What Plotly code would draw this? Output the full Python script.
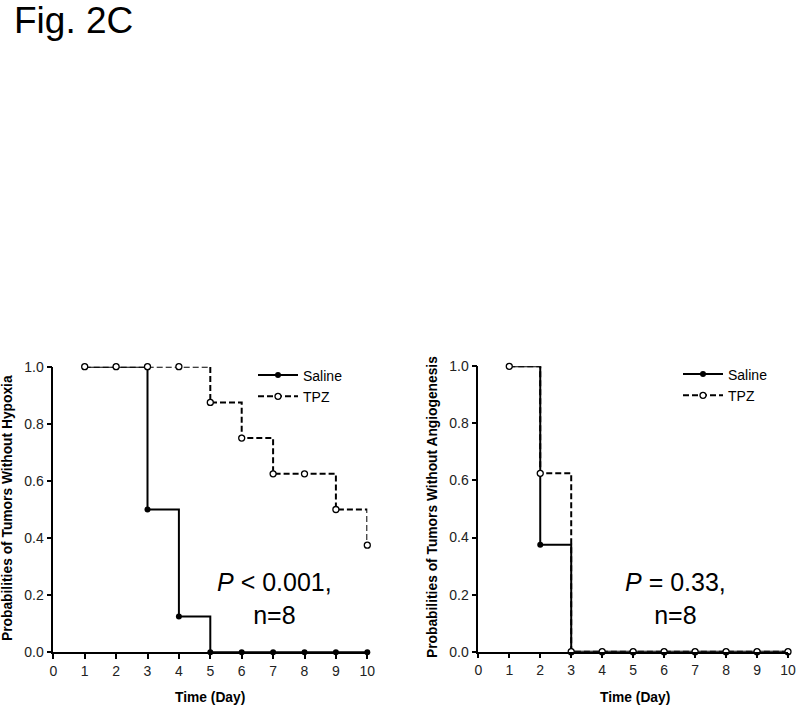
import plotly.graph_objects as go

# Kaplan-Meier style data
days = [1, 2, 3, 4, 5, 6, 7, 8, 9, 10]

hyp_saline = [1.0, 1.0, 0.5, 0.125, 0.0, 0.0, 0.0, 0.0, 0.0, 0.0]
hyp_tpz = [1.0, 1.0, 1.0, 1.0, 0.875, 0.75, 0.625, 0.625, 0.5, 0.375]

ang_saline = [1.0, 0.375, 0.0, 0.0, 0.0, 0.0, 0.0, 0.0, 0.0, 0.0]
ang_tpz = [1.0, 0.625, 0.0, 0.0, 0.0, 0.0, 0.0, 0.0, 0.0, 0.0]

x_ticks = [0, 1, 2, 3, 4, 5, 6, 7, 8, 9, 10]
y_ticks = [0.0, 0.2, 0.4, 0.6, 0.8, 1.0]

FONT = "Liberation Sans, Arial, sans-serif"
W, H = 800, 705


def px_x(p):
    return p / W


def px_y(p):
    return 1 - p / H


fig = go.Figure()

panels = [
    ("x", "y", "legend", hyp_saline, hyp_tpz),
    ("x2", "y2", "legend2", ang_saline, ang_tpz),
]

for xa, ya, leg, sal, tpz in panels:
    fig.add_trace(go.Scatter(
        x=days, y=sal, xaxis=xa, yaxis=ya, legend=leg,
        name="Saline", mode="lines+markers", line_shape="hv",
        line=dict(color="black", width=2),
        marker=dict(symbol="circle", size=6, color="black"),
        cliponaxis=False,
    ))
    fig.add_trace(go.Scatter(
        x=days, y=tpz, xaxis=xa, yaxis=ya, legend=leg,
        name="TPZ", mode="lines+markers", line_shape="hv",
        line=dict(color="black", width=2, dash="6px,3px"),
        marker=dict(symbol="circle", size=6, color="white",
                    line=dict(color="black", width=1.3)),
        cliponaxis=False,
    ))

axis_common = dict(
    showgrid=False, zeroline=False, showline=True, linecolor="black",
    linewidth=1.5, ticks="outside", ticklen=5, tickwidth=1.5,
    tickcolor="black", automargin=False, ticklabeloverflow="allow",
    tickfont=dict(family=FONT, size=14, color="#222"),
)

legend_common = dict(xanchor="left", yanchor="middle", bgcolor="rgba(0,0,0,0)",
                     font=dict(family=FONT, size=14), tracegroupgap=0,
                     itemwidth=40)

fig.update_layout(
    width=W, height=H,
    margin=dict(l=0, r=0, t=0, b=0, autoexpand=False),
    paper_bgcolor="white", plot_bgcolor="white",
    font=dict(family=FONT, color="black"),
    xaxis=dict(domain=[px_x(53.3), px_x(367.3)], range=[0, 10],
               tickvals=x_ticks, anchor="y", **axis_common),
    yaxis=dict(domain=[px_y(652.3), px_y(366.7)], range=[0, 1],
               tickvals=y_ticks, tickformat=".1f", anchor="x", **axis_common),
    xaxis2=dict(domain=[px_x(478.3), px_x(788)], range=[0, 10],
                tickvals=x_ticks, anchor="y2", **axis_common),
    yaxis2=dict(domain=[px_y(651.7), px_y(366.3)], range=[0, 1],
                tickvals=y_ticks, tickformat=".1f", anchor="x2", **axis_common),
    legend=dict(x=px_x(253), y=px_y(386), **legend_common),
    legend2=dict(x=px_x(678), y=px_y(385), **legend_common),
)

annotations = [
    dict(text="Fig. 2C", x=px_x(12), y=px_y(-2), xanchor="left", yanchor="top",
         font=dict(size=37)),
    dict(text="<b>Probabilities of Tumors Without Hypoxia</b>", textangle=-90,
         x=px_x(7), y=px_y(508), font=dict(size=13.8)),
    dict(text="<b>Probabilities of Tumors Without Angiogenesis</b>", textangle=-90,
         x=px_x(432), y=px_y(507), font=dict(size=13.8)),
    dict(text="<b>Time (Day)</b>", x=px_x(210), y=px_y(697), font=dict(size=13.8)),
    dict(text="<b>Time (Day)</b>", x=px_x(635), y=px_y(697), font=dict(size=13.8)),
    dict(text="<i>P</i> &lt; 0.001,<br>n=8", x=px_x(274), y=px_y(598),
         font=dict(size=25)),
    dict(text="<i>P</i> = 0.33,<br>n=8", x=px_x(675), y=px_y(598),
         font=dict(size=25)),
]
for a in annotations:
    a.update(xref="paper", yref="paper", showarrow=False)
    a.setdefault("xanchor", "center")
    a.setdefault("yanchor", "middle")
    a["font"] = dict(family=FONT, color="black", **a["font"])
fig.update_layout(annotations=annotations)

# drop the default 8px body margin so the figure fills the window exactly
fig.write_html("out.html", config={"displayModeBar": False},
               post_script="document.body.style.margin='0';")
